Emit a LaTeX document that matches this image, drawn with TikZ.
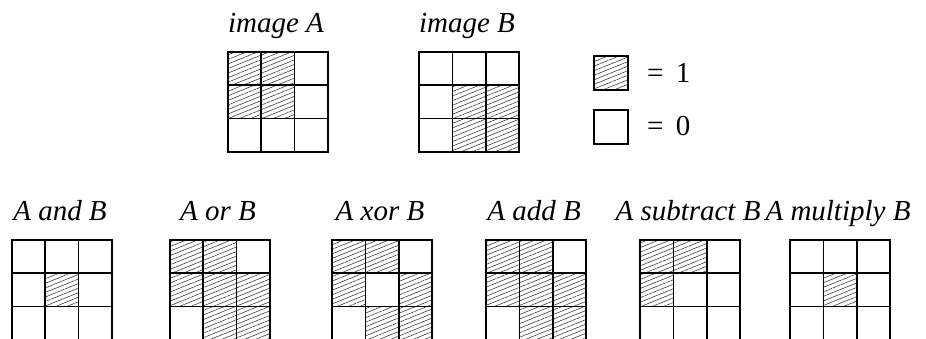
\documentclass[tikz,border=0pt]{standalone}
\usepackage{fontspec}
\setmainfont{Liberation Serif}
\usetikzlibrary{patterns.meta}

\begin{document}
\begin{tikzpicture}[x=0.02cm, y=-0.02cm,
    cell/.style={draw, line width=0.95pt},
    hatch/.style={pattern={Lines[angle=22, distance=2.4pt, line width=0.35pt]}, pattern color=black!75},
    title/.style={font=\fontsize{16.5}{19}\selectfont\itshape, anchor=base},
    legend/.style={font=\fontsize{16.5}{19}\selectfont, anchor=base west}]
    \useasboundingbox (0,0) rectangle (926,338);
    \clip (0,0) rectangle (926,338);

    % Images: left/top corner, name, title, cells set to 1
    \foreach \gx/\gy/\name/\txt/\cells in {
        228/52/imgA/image A/{1,2,4,5},
        419/52/imgB/image B/{5,6,8,9},
        12/240/opAnd/A and B/{5},
        170/240/opOr/A or B/{1,2,4,5,6,8,9},
        332/240/opXor/A xor B/{1,2,4,6,8,9},
        486/240/opAdd/A add B/{1,2,4,5,6,8,9},
        640/240/opSub/A subtract B/{1,2,4},
        790/240/opMul/A multiply B/{5}} {
        \node[title] (\name) at (\gx+48,\gy-20) {\txt};
        \foreach \k in \cells {
            \pgfmathtruncatemacro{\c}{mod(\k-1,3)}
            \pgfmathtruncatemacro{\r}{div(\k-1,3)}
            \fill[hatch] ({\gx+33.33*\c},{\gy+33.33*\r}) rectangle ++(33.33,33.33);
        }
        \foreach \k in {1,...,9} {
            \pgfmathtruncatemacro{\c}{mod(\k-1,3)}
            \pgfmathtruncatemacro{\r}{div(\k-1,3)}
            \draw[cell] ({\gx+33.33*\c},{\gy+33.33*\r}) rectangle ++(33.33,33.33);
        }
    }

    % Legend
    \draw[cell, hatch] (594,56) rectangle (628,90);
    \node[legend] (one) at (641,82) {=\hspace{7pt}1};
    \draw[cell] (594,110) rectangle (628,144);
    \node[legend] (zero) at (641,135) {=\hspace{7pt}0};
\end{tikzpicture}
\end{document}
